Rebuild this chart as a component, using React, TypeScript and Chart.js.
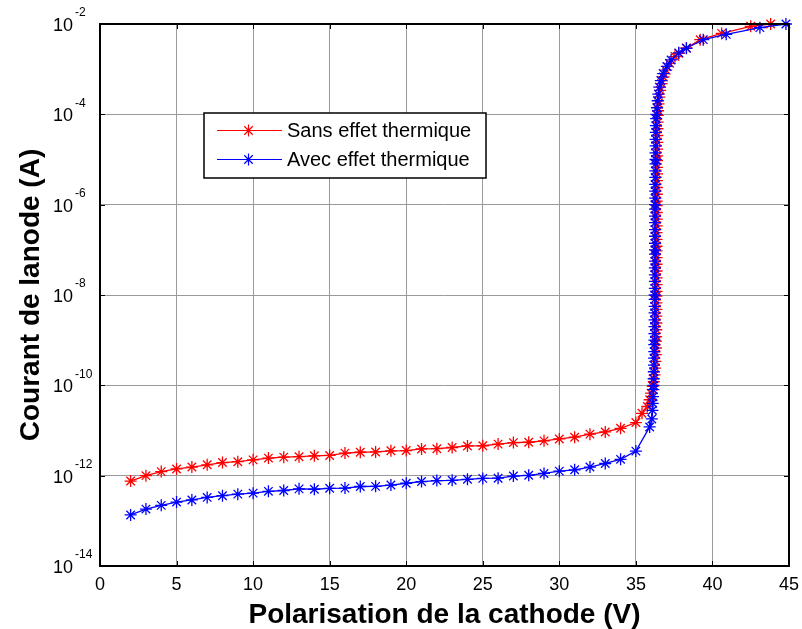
import React, { useEffect, useRef } from 'react';
import { Chart, registerables } from 'chart.js';

Chart.register(...registerables);

const FONT = "'Liberation Sans', Arial, Helvetica, sans-serif";

// ---- axis / label data ----
const xTicks = [0, 5, 10, 15, 20, 25, 30, 35, 40, 45];
const yTickExponents = [-14, -12, -10, -8, -6, -4, -2];
const xTitle = 'Polarisation de la cathode (V)';
const yTitle = 'Courant de lanode (A)';
const seriesNames = ['Sans effet thermique', 'Avec effet thermique'];
const seriesColors = ['#ff0000', '#0000ff'];

// ---- "Sans effet thermique" (red) ----
const redV = [
  2, 3, 4, 5, 6, 7, 8, 9, 10, 11, 12, 13, 14, 15, 16, 17, 18,
  19, 20, 21, 22, 23, 24, 25, 26, 27, 28, 29, 30, 31, 32, 33, 34, 35,
  35.4, 35.75, 35.9, 36.0, 36.1, 36.17, 36.22, 36.26, 36.28, 36.3, 36.31, 36.32,
  36.32, 36.33, 36.33, 36.33, 36.34, 36.34, 36.34,
  36.35, 36.35, 36.35, 36.35, 36.35, 36.35, 36.35,
  36.35, 36.35, 36.35, 36.36, 36.36, 36.36, 36.36,
  36.36, 36.37, 36.37, 36.37, 36.38, 36.38, 36.38,
  36.39, 36.39, 36.4, 36.4, 36.41, 36.42, 36.43,
  36.45, 36.48, 36.53, 36.59, 36.68, 36.8, 36.98,
  37.2, 37.55, 37.8, 38.3, 39.2, 40.6, 42.5, 43.8,
];
const redI = [
  7.6e-13, 1.0e-12, 1.23e-12, 1.41e-12, 1.55e-12, 1.74e-12, 1.95e-12, 2.04e-12, 2.24e-12,
  2.45e-12, 2.57e-12, 2.63e-12, 2.75e-12, 2.8e-12, 3.16e-12, 3.3e-12, 3.35e-12,
  3.55e-12, 3.6e-12, 3.9e-12, 3.95e-12, 4.2e-12, 4.55e-12, 4.6e-12, 5.0e-12, 5.4e-12,
  5.5e-12, 5.9e-12, 6.5e-12, 7.1e-12, 8.3e-12, 9.3e-12, 1.12e-11, 1.5e-11,
  2.4e-11, 3.4e-11, 4.8e-11, 6.7e-11, 9.5e-11, 1.2e-10, 1.7e-10, 2.4e-10, 3.4e-10, 4.8e-10, 6.7e-10, 9.5e-10,
  1.2e-9, 1.7e-9, 2.4e-9, 3.4e-9, 4.8e-9, 6.7e-9, 9.5e-9,
  1.2e-8, 1.7e-8, 2.4e-8, 3.4e-8, 4.8e-8, 6.7e-8, 9.5e-8,
  1.2e-7, 1.7e-7, 2.4e-7, 3.4e-7, 4.8e-7, 6.7e-7, 9.5e-7,
  1.2e-6, 1.7e-6, 2.4e-6, 3.4e-6, 4.8e-6, 6.7e-6, 9.5e-6,
  1.2e-5, 1.7e-5, 2.4e-5, 3.4e-5, 4.8e-5, 6.7e-5, 9.5e-5,
  1.2e-4, 1.7e-4, 2.4e-4, 3.4e-4, 4.8e-4, 6.7e-4, 9.5e-4,
  1.35e-3, 1.9e-3, 2.24e-3, 2.95e-3, 4.5e-3, 6.2e-3, 8.9e-3, 1.0e-2,
];

// ---- "Avec effet thermique" (blue) ----
const blueV = [
  2, 3, 4, 5, 6, 7, 8, 9, 10, 11, 12, 13, 14, 15, 16, 17, 18,
  19, 20, 21, 22, 23, 24, 25, 26, 27, 28, 29, 30, 31, 32, 33, 34, 35,
  35.9, 36.04, 36.08, 36.1, 36.12, 36.14,
  36.15, 36.16, 36.17, 36.18, 36.19, 36.2, 36.2,
  36.21, 36.21, 36.22, 36.22, 36.22, 36.23, 36.23,
  36.23, 36.24, 36.24, 36.24, 36.24, 36.25, 36.25,
  36.25, 36.25, 36.25, 36.25, 36.25, 36.25, 36.25,
  36.25, 36.26, 36.26, 36.26, 36.27, 36.27, 36.28,
  36.28, 36.28, 36.29, 36.29, 36.3, 36.31, 36.32,
  36.34, 36.38, 36.42, 36.47, 36.53, 36.63, 36.78,
  37.02, 37.3, 37.8, 38.3, 39.4, 40.9, 43.1, 44.8,
];
const blueI = [
  1.35e-13, 1.82e-13, 2.2e-13, 2.6e-13, 2.9e-13, 3.3e-13, 3.6e-13, 3.9e-13, 4.1e-13,
  4.5e-13, 4.7e-13, 5.1e-13, 5.0e-13, 5.25e-13, 5.3e-13, 5.75e-13, 5.8e-13,
  6.2e-13, 6.8e-13, 7.4e-13, 7.8e-13, 7.9e-13, 8.3e-13, 8.7e-13, 8.8e-13, 9.8e-13,
  1.02e-12, 1.12e-12, 1.26e-12, 1.35e-12, 1.55e-12, 1.86e-12, 2.3e-12, 3.5e-12,
  1.2e-11, 1.8e-11, 2.8e-11, 4.0e-11, 5.6e-11, 8.0e-11,
  1.0e-10, 1.4e-10, 2.0e-10, 2.8e-10, 4.0e-10, 5.6e-10, 8.0e-10,
  1.0e-9, 1.4e-9, 2.0e-9, 2.8e-9, 4.0e-9, 5.6e-9, 8.0e-9,
  1.0e-8, 1.4e-8, 2.0e-8, 2.8e-8, 4.0e-8, 5.6e-8, 8.0e-8,
  1.0e-7, 1.4e-7, 2.0e-7, 2.8e-7, 4.0e-7, 5.6e-7, 8.0e-7,
  1.0e-6, 1.4e-6, 2.0e-6, 2.8e-6, 4.0e-6, 5.6e-6, 8.0e-6,
  1.0e-5, 1.4e-5, 2.0e-5, 2.8e-5, 4.0e-5, 5.6e-5, 8.0e-5,
  1.0e-4, 1.4e-4, 2.0e-4, 2.8e-4, 4.0e-4, 5.6e-4, 8.0e-4,
  1.15e-3, 1.6e-3, 2.3e-3, 2.9e-3, 4.5e-3, 5.9e-3, 8.3e-3, 1.0e-2,
];

const MARKER_R = 6;

function drawStar(ctx: CanvasRenderingContext2D, x: number, y: number, r: number) {
  const d = r * Math.SQRT1_2;
  ctx.beginPath();
  ctx.moveTo(x - r, y); ctx.lineTo(x + r, y);
  ctx.moveTo(x, y - r); ctx.lineTo(x, y + r);
  ctx.moveTo(x - d, y - d); ctx.lineTo(x + d, y + d);
  ctx.moveTo(x - d, y + d); ctx.lineTo(x + d, y - d);
  ctx.stroke();
}

function zeroPadding(s: any) {
  s.paddingLeft = 0;
  s.paddingRight = 0;
  s.paddingTop = 0;
  s.paddingBottom = 0;
}

const overlayPlugin = {
  id: 'matlabOverlay',
  afterDraw(chart: any) {
    const { ctx, chartArea: a, scales } = chart;
    const xs = scales.x;
    const ys = scales.y;
    ctx.save();

    // inward tick marks
    ctx.strokeStyle = '#000';
    ctx.lineWidth = 1;
    const tl = 5;
    ctx.beginPath();
    xTicks.forEach((v) => {
      const px = Math.round(xs.getPixelForValue(v)) + 0.5;
      ctx.moveTo(px, a.bottom); ctx.lineTo(px, a.bottom - tl);
      ctx.moveTo(px, a.top); ctx.lineTo(px, a.top + tl);
    });
    yTickExponents.forEach((e) => {
      const py = Math.round(ys.getPixelForValue(Math.pow(10, e))) + 0.5;
      ctx.moveTo(a.left, py); ctx.lineTo(a.left + tl, py);
      ctx.moveTo(a.right, py); ctx.lineTo(a.right - tl, py);
    });
    ctx.stroke();

    // axes box
    ctx.lineWidth = 2;
    ctx.strokeRect(a.left, a.top, a.right - a.left, a.bottom - a.top);

    // exponents of y tick labels
    ctx.fillStyle = '#000';
    ctx.font = `12px ${FONT}`;
    ctx.textAlign = 'left';
    ctx.textBaseline = 'middle';
    yTickExponents.forEach((e) => {
      const py = ys.getPixelForValue(Math.pow(10, e));
      ctx.fillText(String(e), a.left - 25, py - 11);
    });

    // legend
    const lx = 204, ly = 113, lw = 282, lh = 65;
    ctx.fillStyle = '#fff';
    ctx.fillRect(lx, ly, lw, lh);
    ctx.lineWidth = 1.5;
    ctx.strokeStyle = '#000';
    ctx.strokeRect(lx, ly, lw, lh);
    const rows = [ly + 17, ly + 46];
    seriesNames.forEach((name, i) => {
      const ry = rows[i];
      ctx.strokeStyle = seriesColors[i];
      ctx.lineWidth = 1.2;
      ctx.beginPath();
      ctx.moveTo(lx + 13, ry + 0.5);
      ctx.lineTo(lx + 78, ry + 0.5);
      ctx.stroke();
      drawStar(ctx, lx + 44.5, ry + 0.5, MARKER_R);
      ctx.fillStyle = '#000';
      ctx.font = `20px ${FONT}`;
      ctx.textAlign = 'left';
      ctx.textBaseline = 'middle';
      ctx.fillText(name, lx + 83, ry + 1);
    });

    ctx.restore();
  },
};

export default function App() {
  const ref = useRef<HTMLCanvasElement>(null);

  useEffect(() => {
    const canvas = ref.current;
    if (!canvas) return;
    const mk = (vs: number[], is: number[]) => vs.map((x, i) => ({ x, y: is[i] }));
    const common = {
      borderWidth: 1.3,
      pointStyle: 'star',
      pointRadius: MARKER_R,
      pointHoverRadius: MARKER_R,
      pointBorderWidth: 1.3,
      fill: false,
      tension: 0,
      clip: false,
    };
    const chart = new Chart(canvas, {
      type: 'line',
      data: {
        datasets: [
          {
            ...common,
            label: seriesNames[0],
            data: mk(redV, redI),
            borderColor: seriesColors[0],
            backgroundColor: seriesColors[0],
            pointBorderColor: seriesColors[0],
            order: 1,
          },
          {
            ...common,
            label: seriesNames[1],
            data: mk(blueV, blueI),
            borderColor: seriesColors[1],
            backgroundColor: seriesColors[1],
            pointBorderColor: seriesColors[1],
            order: 0,
          },
        ] as any,
      },
      options: {
        animation: false,
        responsive: false,
        devicePixelRatio: 1,
        layout: { padding: { left: 0, right: 13, top: 24, bottom: 0 } },
        plugins: { legend: { display: false }, tooltip: { enabled: false } },
        scales: {
          x: {
            type: 'linear',
            min: 0,
            max: 45,
            afterBuildTicks: (s: any) => { s.ticks = xTicks.map((v) => ({ value: v })); },
            afterFit: (s: any) => { s.height = 63; zeroPadding(s); },
            grid: { color: '#9a9a9a', lineWidth: 1, drawTicks: false },
            border: { display: false },
            ticks: {
              font: { family: FONT, size: 18 },
              color: '#000',
              padding: 8,
              maxRotation: 0,
              autoSkip: false,
            },
            title: {
              display: true,
              text: xTitle,
              color: '#000',
              font: { family: FONT, size: 28, weight: 'bold', lineHeight: 1 },
              padding: { top: 0, bottom: 0 },
            },
          },
          y: {
            type: 'logarithmic',
            min: 1e-14,
            max: 1e-2,
            afterBuildTicks: (s: any) => {
              s.ticks = yTickExponents.map((e) => ({ value: Math.pow(10, e) }));
            },
            afterFit: (s: any) => { s.width = 100; zeroPadding(s); },
            grid: { color: '#9a9a9a', lineWidth: 1, drawTicks: false },
            border: { display: false },
            ticks: {
              callback: () => '10',
              font: { family: FONT, size: 18 },
              color: '#000',
              padding: 27,
              labelOffset: 2,
              autoSkip: false,
            },
            title: {
              display: true,
              text: yTitle,
              color: '#000',
              font: { family: FONT, size: 28, weight: 'bold', lineHeight: 1 },
              padding: { top: 17, bottom: 0 },
            },
          },
        },
      } as any,
      plugins: [overlayPlugin],
    });
    return () => chart.destroy();
  }, []);

  return (
    <canvas
      ref={ref}
      width={802}
      height={629}
      style={{ position: 'absolute', left: 0, top: 0, width: 802, height: 629, background: '#fff' }}
    />
  );
}
